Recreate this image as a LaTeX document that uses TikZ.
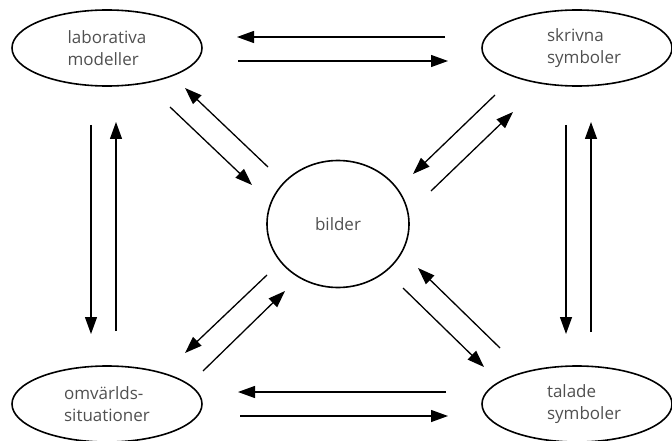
\documentclass[tikz,border=0pt]{standalone}
\usepackage{fontspec}
\setmainfont{Open Sans}
\usetikzlibrary{arrows.meta,shapes.geometric}
\definecolor{txtgray}{HTML}{505050}
\tikzset{
  form/.style={draw=black, line width=1.6pt, ellipse, minimum width=190pt, minimum height=76pt,
    align=left, text=txtgray, font=\fontsize{17}{22}\selectfont},
  arr/.style={black, line width=1.3pt, -{Triangle[length=17pt,width=12pt]}}
}
\newcommand{\ind}{\hspace*{14pt}}
\begin{document}
\begin{tikzpicture}[x=1pt, y=-1pt]
			\useasboundingbox (0,0) rectangle (672,441);
			% the five forms
			\node[form] (lab) at (107,48) {laborativa\\modeller};
			\node[form] (skr) at (577,48) {\ind skrivna\\\ind symboler};
			\node[form] (omv) at (107,404) {omvärlds-\\situationer};
			\node[form] (tal) at (577,404) {\ind talade\\\ind symboler};
			\node[form, minimum width=142pt, minimum height=127pt] (bil) at (338,224) {bilder};
			
			% top and bottom
			\draw [arr] ([shift={(-132,-11)}]skr.center) -- ([shift={(130,-11)}]lab.center);
			\draw [arr] ([shift={(131,13)}]lab.center) -- ([shift={(-129,13)}]skr.center);
			\draw [arr] ([shift={(-131,-12)}]tal.center) -- ([shift={(131,-12)}]omv.center);
			\draw [arr] ([shift={(133,12)}]omv.center) -- ([shift={(-129,12)}]tal.center);
			
			% left and right
			\draw [arr] ([shift={(-16,77)}]lab.center) -- ([shift={(-16,-70)}]omv.center);
			\draw [arr] ([shift={(9,-73)}]omv.center) -- ([shift={(9,74)}]lab.center);
			\draw [arr] ([shift={(-11,77)}]skr.center) -- ([shift={(-11,-70)}]tal.center);
			\draw [arr] ([shift={(14,-72)}]tal.center) -- ([shift={(14,74)}]skr.center);
			
			% to and from bilder
			\draw [arr] ([shift={(-70,-57)}]bil.center) -- ([shift={(78,40)}]lab.center);
			\draw [arr] ([shift={(63,59)}]lab.center) -- ([shift={(-86,-39)}]bil.center);
			\draw [arr] ([shift={(-82,47)}]skr.center) -- ([shift={(75,-50)}]bil.center);
			\draw [arr] ([shift={(93,-33)}]bil.center) -- ([shift={(-64,64)}]skr.center);
			\draw [arr] ([shift={(-71,51)}]bil.center) -- ([shift={(78,-51)}]omv.center);
			\draw [arr] ([shift={(96,-33)}]omv.center) -- ([shift={(-53,67)}]bil.center);
			\draw [arr] ([shift={(-77,-56)}]tal.center) -- ([shift={(80,44)}]bil.center);
			\draw [arr] ([shift={(65,64)}]bil.center) -- ([shift={(-93,-37)}]tal.center);
		
		\end{tikzpicture}
\end{document}
